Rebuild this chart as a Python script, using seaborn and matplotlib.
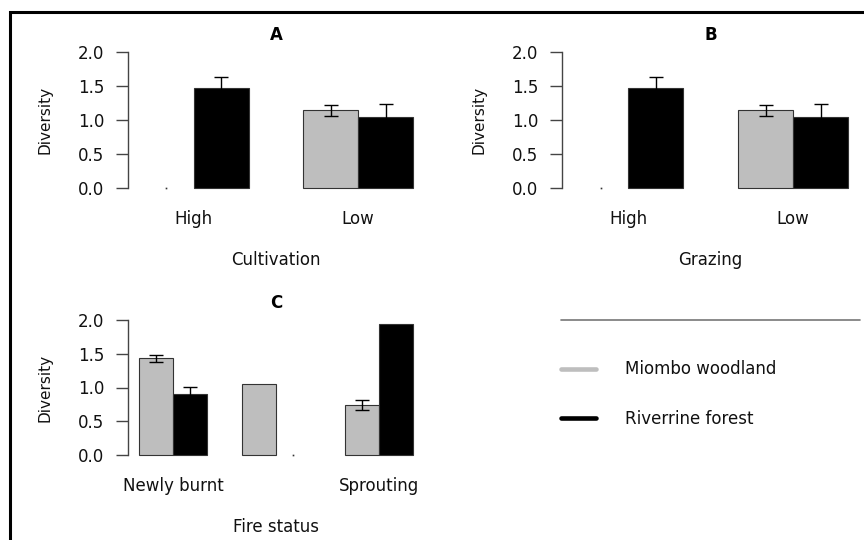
import numpy as np
import pandas as pd
import matplotlib
matplotlib.use("Agg")
import matplotlib.pyplot as plt
from matplotlib.lines import Line2D
from matplotlib.patches import Rectangle
from matplotlib.ticker import FormatStrFormatter
import seaborn as sns

sns.set_style("white")
plt.rcParams['font.family'] = ['DejaVu Sans']
plt.rcParams['text.color'] = '#111111'
plt.rcParams['axes.labelcolor'] = '#111111'

# data
habitats = ["Miombo woodland", "Riverrine forest"]
colors = ["#BEBEBE", "#000000"]

cult_cats = ["High", "Low"]
cult_miombo = [0.0, 1.14]
cult_riverine = [1.47, 1.05]
cult_se_miombo = [np.nan, 0.075]
cult_se_riverine = [0.17, 0.185]

graz_cats = ["High", "Low"]
graz_miombo = [0.0, 1.14]
graz_riverine = [1.47, 1.05]
graz_se_miombo = [np.nan, 0.075]
graz_se_riverine = [0.17, 0.185]

fire_cats = ["Newly burnt", "Mid", "Sprouting"]
fire_ticklabels = ["Newly burnt", "", "Sprouting"]
fire_miombo = [1.43, 1.05, 0.74]
fire_riverine = [0.90, 0.0, 1.945]
fire_se_miombo = [0.045, np.nan, 0.07]
fire_se_riverine = [0.11, np.nan, np.nan]

W, H = 864, 540
fig = plt.figure(figsize=(W / 100, H / 100), dpi=100)
fig.patch.set_facecolor("white")


def px_axes(left, top, right, bottom):
    return fig.add_axes([left / W, 1 - bottom / H, (right - left) / W, (bottom - top) / H])


def panel(ax, cats, ticklabels, miombo, riverine, se_m, se_r, xlabel, title, xpad):
    n = len(cats)
    df = pd.DataFrame({
        "cat": cats * 2,
        "habitat": [habitats[0]] * n + [habitats[1]] * n,
        "div": miombo + riverine,
    })
    sns.barplot(data=df, x="cat", y="div", hue="habitat", order=cats,
                hue_order=habitats, palette=colors, width=2 / 3, saturation=1,
                errorbar=None, edgecolor="#333333", linewidth=0.8,
                legend=False, ax=ax)
    for cont, se in zip(ax.containers, [se_m, se_r]):
        for bar, e in zip(cont, se):
            xc = bar.get_x() + bar.get_width() / 2
            h = bar.get_height()
            if h == 0:
                bar.set_linewidth(0)
                ax.plot(xc, 0, marker="s", ms=1.2, color="#333333", mew=0)
            if not np.isnan(e):
                ax.errorbar(xc, h, yerr=e, color="black", capsize=4.7,
                            lw=1, capthick=1)
    ax.set_xlim(-1 / 3 - xpad, n - 1 + 1 / 3 + xpad)
    ax.set_ylim(-0.08, 2.08)
    ax.set_yticks([0, 0.5, 1.0, 1.5, 2.0])
    ax.yaxis.set_major_formatter(FormatStrFormatter("%.1f"))
    ax.set_xticks(range(n))
    ax.set_xticklabels(ticklabels)
    for s in ["top", "right", "bottom"]:
        ax.spines[s].set_visible(False)
    ax.spines["left"].set_bounds(0, 2)
    ax.spines["left"].set_color("#444444")
    ax.spines["left"].set_linewidth(1)
    ax.tick_params(axis="y", left=True, length=8.6, width=1, color="#444444",
                   pad=8.6, labelsize=12, labelcolor="#111111")
    ax.tick_params(axis="x", bottom=False, length=0, pad=12, labelsize=12,
                   labelcolor="#111111")
    ax.set_ylabel("Diversity", fontsize=11)
    ax.yaxis.set_label_coords(-0.28, 0.5)
    ax.yaxis.label.set_va("center")
    ax.set_xlabel(xlabel, fontsize=12)
    ax.xaxis.set_label_coords(0.5, -0.455)
    ax.xaxis.label.set_va("center")
    ax.set_title(title, fontsize=12, fontweight="bold", pad=4.8, color="black")
    ax.patch.set_alpha(0)


axA = px_axes(128, 46.6, 424, 193.4)
axB = px_axes(562, 46.6, 859, 193.4)
axC = px_axes(128, 314.6, 424, 460.4)

panel(axA, cult_cats, cult_cats, cult_miombo, cult_riverine,
      cult_se_miombo, cult_se_riverine, "Cultivation", "A", 0.2 / 3)
panel(axB, graz_cats, graz_cats, graz_miombo, graz_riverine,
      graz_se_miombo, graz_se_riverine, "Grazing", "B", 0.2 / 3)
panel(axC, fire_cats, fire_ticklabels, fire_miombo, fire_riverine,
      fire_se_miombo, fire_se_riverine, "Fire status", "C", 0.32 / 3)

# legend area
fig.add_artist(Line2D([561 / W, 860 / W], [1 - 320 / H] * 2, color="#777777", lw=1.2))
handles = [Line2D([], [], color=c, lw=3.3) for c in colors]
fig.legend(handles, habitats, loc="upper left",
           bbox_to_anchor=(561 / W, 1 - 360.5 / H), frameon=False, fontsize=12,
           handlelength=2.1, handletextpad=1.74, labelspacing=1.9,
           borderpad=0, borderaxespad=0)

# outer frame
fig.add_artist(Rectangle((9.5 / W, -0.05), 1.1, 1 - 12 / H + 0.05,
                         transform=fig.transFigure, fill=False, lw=2.2,
                         edgecolor="black", clip_on=False))

fig.savefig("out.png", dpi=100, facecolor="white")
